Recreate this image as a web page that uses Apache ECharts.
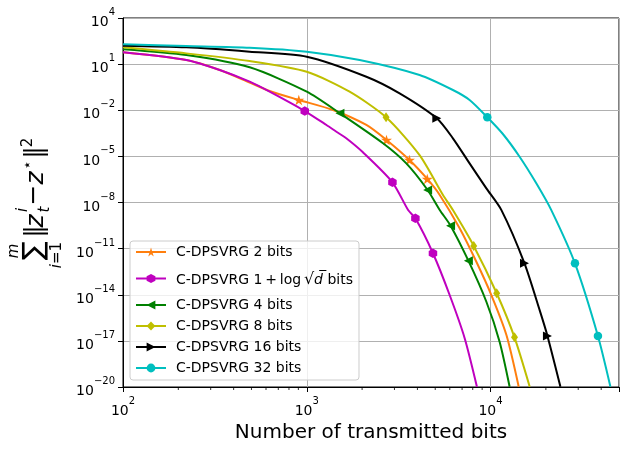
<!DOCTYPE html>
<html><head><meta charset="utf-8">
<script src="https://cdn.jsdelivr.net/npm/echarts/dist/echarts.min.js"></script>
<style>html,body{margin:0;padding:0;background:#fff}#c{width:629px;height:451px}</style>
</head><body><div id="c"></div>
<script>
// ---- data (x: transmitted bits, y: error) ----
const NAMES = ['C-DPSVRG 2 bits', 'C-DPSVRG 1+log\u221Ad bits', 'C-DPSVRG 4 bits', 'C-DPSVRG 8 bits', 'C-DPSVRG 16 bits', 'C-DPSVRG 32 bits'];

const x2 = [100, 221, 336, 489, 628, 905, 1390, 2110, 2715, 3620, 4525, 5290, 6790, 8370, 10100, 12200, 14230];
const y2 = [58.7, 18.5, 4.15, 0.64, 0.179, 0.0464, 0.0104, 1.1e-3, 1.16e-4, 5.8e-6, 3.4e-7, 3.1e-8, 2.1e-10, 1.4e-12, 9.6e-15, 2.4e-17, 1.05e-20];
const mk2 = [5, 8, 9, 10];

const xL = [100, 221, 336, 489, 628, 975, 1280, 1450, 1640, 2014, 2925, 3560, 3900, 4860, 5990, 7230, 8430];
const yL = [58.7, 18.5, 4.15, 0.72, 0.161, 8.9e-3, 1.1e-3, 4.0e-4, 1.5e-4, 1.9e-5, 2.06e-7, 3.25e-9, 9.3e-10, 5e-12, 9.6e-15, 1.5e-17, 1.05e-20];
const mkL = [5, 10, 12, 13];

const x4 = [100, 221, 489, 1000, 1515, 2600, 3480, 4545, 5290, 6060, 7575, 9490, 11200, 12700];
const y4 = [92, 39, 6.2, 0.161, 6.3e-3, 7.1e-5, 3.5e-6, 6.5e-8, 3.25e-9, 3.1e-10, 1.64e-12, 3.5e-15, 8.9e-18, 1.05e-20];
const mk4 = [4, 7, 9, 10];

const x8 = [100, 221, 489, 1000, 1710, 2700, 4110, 5510, 6240, 8100, 10800, 13500, 16330];
const y8 = [124, 50, 15.8, 3.2, 0.161, 3.5e-3, 1.2e-5, 3.1e-8, 3.2e-9, 1.5e-11, 1.25e-14, 1.7e-17, 1.05e-20];
const mk8 = [5, 9, 10, 11];

const x16 = [100, 221, 489, 1000, 2110, 3200, 5100, 6240, 7690, 9490, 11460, 15300, 18500, 20400, 24000];
const y16 = [158, 124, 64.6, 30.4, 1.52, 0.126, 3.0e-3, 1.5e-4, 3.5e-6, 8.3e-8, 3.2e-9, 1.1e-12, 1.0e-15, 2.1e-17, 1.05e-20];
const mk16 = [6, 11, 13];

const x32 = [100, 221, 489, 1000, 1940, 4110, 6240, 7690, 9600, 11670, 14390, 17740, 21410, 28800, 38400, 44900];
const y32 = [194, 151, 117, 64.6, 18.5, 1.96, 0.207, 0.0464, 3.5e-3, 2.85e-4, 9.5e-6, 1.78e-7, 3.2e-9, 1.1e-12, 2.1e-17, 1.05e-20];
const mk32 = [8, 13, 14];

const xMinorTicks = [200, 300, 400, 500, 600, 700, 800, 900, 2000, 3000, 4000, 5000, 6000, 7000, 8000, 9000, 20000, 30000, 40000];
const xRange = [100, 50000];
const yExpRange = [-20, 4];
const yExpStep = 3;

// ---- styling ----
const FONT = '"DejaVu Sans", "Liberation Sans", sans-serif';
const COLORS = ['#ff7f0e', '#bf00bf', '#008000', '#bfbf00', '#000000', '#00bfbf'];
const SYMBOLS = [
  'path://M50,0L61.2,34.5L97.6,34.5L68.2,55.9L79.4,90.5L50,69.1L20.6,90.5L31.8,55.9L2.4,34.5L38.8,34.5Z',
  'path://M50,0L93.3,25L93.3,75L50,100L6.7,75L6.7,25Z',
  'path://M0,50L100,0L100,100Z',
  'path://M30,0L60,50L30,100L0,50Z',
  'path://M100,50L0,0L0,100Z',
  'circle'
];
const SIZES = [[11, 10.5], [8.5, 9.5], [9, 9], [7, 10], [9, 9], 8.5];

function build(xs, ys, marks) {
  return xs.map((x, i) => {
    const item = { value: [x, Math.log10(ys[i])] };
    if (marks.indexOf(i) < 0) item.symbol = 'none';
    return item;
  });
}
const SETS = [[x2, y2, mk2], [xL, yL, mkL], [x4, y4, mk4], [x8, y8, mk8], [x16, y16, mk16], [x32, y32, mk32]];

function supText(e) { return e < 0 ? '\u2212' + (-e) : String(e); }
const tickRich = {
  b: { fontSize: 14, lineHeight: 22, verticalAlign: 'bottom', fontFamily: FONT, color: '#000' },
  s: { fontSize: 10, lineHeight: 10, verticalAlign: 'top', fontFamily: FONT, color: '#000' }
};

const series = SETS.map((s, k) => ({
  name: NAMES[k], type: 'line', data: build(s[0], s[1], s[2]),
  symbol: SYMBOLS[k], symbolSize: SIZES[k], showSymbol: true,
  smooth: 0.25, clip: true,
  lineStyle: { width: 2, color: COLORS[k] },
  itemStyle: { color: COLORS[k], borderWidth: 0 },
  emphasis: { disabled: true }, z: 3 + k
}));
series.push({
  type: 'scatter', name: 'minor', silent: true, clip: false,
  data: xMinorTicks.map(v => [v, yExpRange[0]]),
  symbol: 'rect', symbolSize: [1, 3], symbolOffset: [0, 1.5],
  itemStyle: { color: '#000' }, z: 20
});

const T = (text, x, y, size, italic, extra) => Object.assign({
  type: 'text', x: x, y: y,
  style: { text: text, font: (italic ? 'italic ' : '') + size + 'px ' + FONT, fill: '#000',
    align: 'center', verticalAlign: 'middle', textAlign: 'center', textVerticalAlign: 'middle' }
}, extra || {});

const labelChildren = [
  T('\u2211', 19.5, -0.5, 28, false),
  T('m', 19, -21, 15, true),
  { type: 'text', x: 15, y: 22.5, style: { text: '{it|i}=1', font: '15px ' + FONT, fill: '#000',
      align: 'center', verticalAlign: 'middle', textAlign: 'center', textVerticalAlign: 'middle',
      rich: { it: { fontStyle: 'italic', fontSize: 15, fontFamily: FONT } } } },
  T('\u2016', 38.5, 0, 25, false),
  T('z', 49, 1.5, 25, true),
  T('i', 60, -11.5, 15, true),
  T('t', 60.5, 10.5, 15, true),
  T('\u2212', 75, -1, 25, false),
  T('z', 92, 1.5, 25, true),
  T('\u22C6', 105, -7, 15, false),
  T('\u2016', 117.5, 0, 25, false),
  T('2', 127.5, -7, 15, false)
];

const legendData = NAMES.map((n, k) => k === 1
  ? { name: n, textStyle: { padding: [7, 0, 4, 5], lineHeight: 14 } }
  : { name: n });

const chart = echarts.init(document.getElementById('c'), null, { renderer: 'canvas' });
chart.setOption({
  animation: false,
  backgroundColor: '#fff',
  textStyle: { fontFamily: FONT },
  grid: { left: 123, right: 10, top: 18, bottom: 64, show: true, borderColor: '#000', borderWidth: 1, backgroundColor: 'transparent' },
  xAxis: {
    type: 'log', logBase: 10, min: xRange[0], max: xRange[1],
    name: 'Number of transmitted bits', nameLocation: 'middle', nameGap: 30,
    nameTextStyle: { fontSize: 20, color: '#000', fontFamily: FONT },
    axisLine: { show: true, onZero: false, lineStyle: { color: '#000', width: 1 } },
    axisTick: { show: true, length: 5, lineStyle: { color: '#000', width: 1 } },
    minorTick: { show: false },
    axisLabel: {
      margin: 9, showMinLabel: true, showMaxLabel: true, hideOverlap: false,
      formatter: function (v) {
        const e = Math.log10(v);
        if (Math.abs(e - Math.round(e)) > 1e-6) return '';
        return '{b|10}{s|' + supText(Math.round(e)) + '}';
      },
      rich: tickRich
    },
    splitLine: { show: true, lineStyle: { color: '#b0b0b0', width: 1 } }
  },
  yAxis: {
    type: 'value', min: yExpRange[0], max: yExpRange[1], interval: yExpStep,
    axisLine: { show: true, onZero: false, lineStyle: { color: '#000', width: 1 } },
    axisTick: { show: true, length: 5, lineStyle: { color: '#000', width: 1 } },
    axisLabel: {
      margin: 8, padding: [1, 0, 0, 0], showMinLabel: true, showMaxLabel: true,
      formatter: function (v) { return '{b|10}{s|' + supText(Math.round(v)) + '}'; },
      rich: tickRich
    },
    splitLine: { show: true, lineStyle: { color: '#b0b0b0', width: 1 } }
  },
  legend: {
    data: legendData, orient: 'vertical', left: 130, top: 241,
    itemWidth: 30, itemHeight: 11, itemGap: 7, padding: [4, 6, 5, 5],
    backgroundColor: 'rgba(255,255,255,0.8)', borderColor: '#cccccc', borderWidth: 1, borderRadius: 3,
    selectedMode: false,
    textStyle: {
      fontSize: 14, color: '#000', fontFamily: FONT, padding: [0, 0, 0, 5],
      rich: {
        a: { fontSize: 14, fontFamily: FONT, color: '#000' },
        r: { fontSize: 16, fontFamily: FONT, color: '#000' },
        d: { fontSize: 14, fontStyle: 'italic', fontFamily: FONT, color: '#000' }
      }
    },
    formatter: function (name) {
      if (name === NAMES[1]) return '{a|C-DPSVRG 1\u2009+\u2009log\u2009}{r|\u221A}{d|d\u0305}{a| bits}';
      return name;
    }
  },
  graphic: [{ type: 'group', x: 35, y: 270, rotation: Math.PI / 2, children: labelChildren }],
  series: series
});
</script>
</body></html>
